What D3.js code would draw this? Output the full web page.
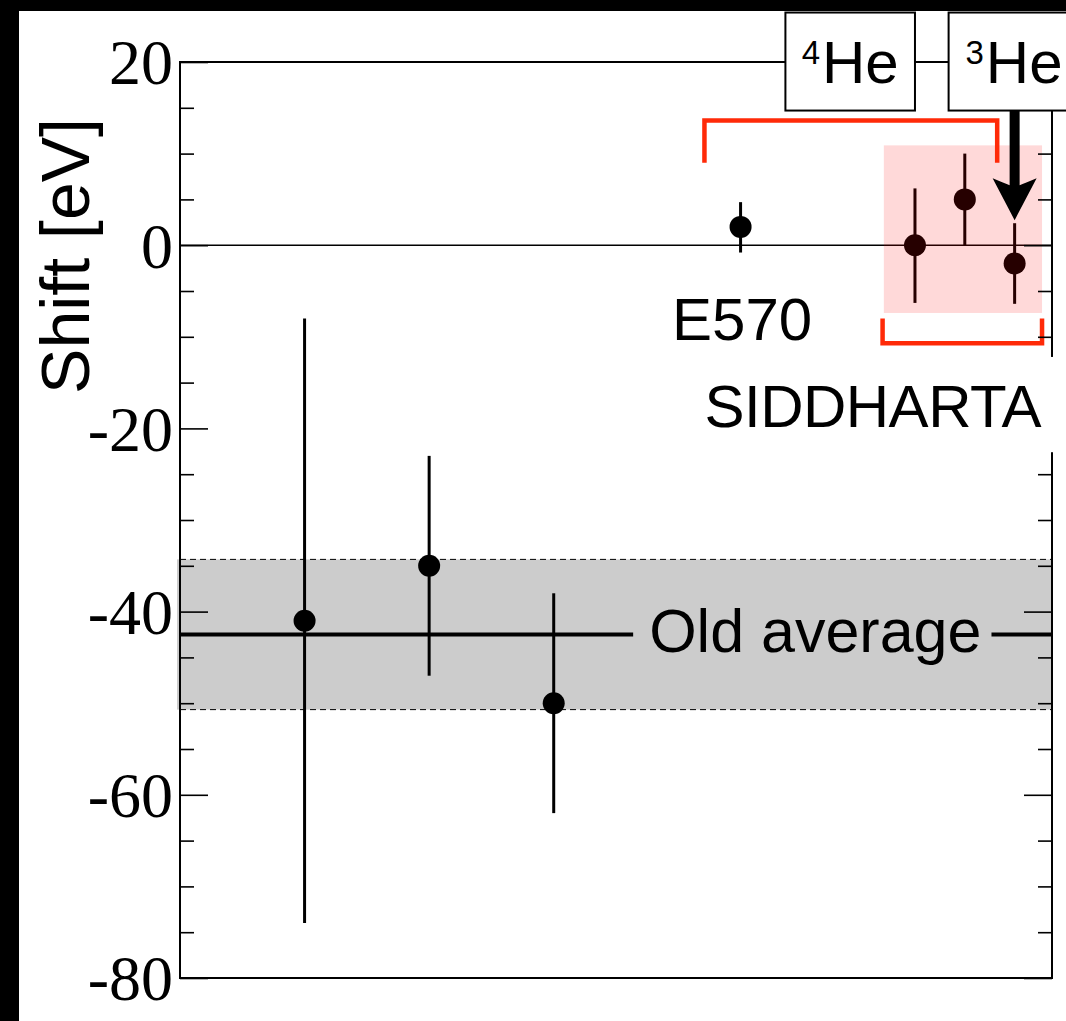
<!DOCTYPE html>
<html><head><meta charset="utf-8">
<script src="https://cdn.jsdelivr.net/npm/d3@7"></script>
<style>body{margin:0;background:#fff;} svg{display:block}</style>
</head><body>
<svg id="c" width="1066" height="1021"></svg>
<script>
// ---- data ----
const categories = ["Old 1", "Old 2", "Old 3", "E570", "SIDDHARTA 3He", "SIDDHARTA 4He", "SIDDHARTA 3He (new)"];
const xPositions = [1, 2, 3, 4.5, 5.9, 6.3, 6.7];
const shiftValues = [-41, -35, -50, 2, 0, 5, -2];
const errUp = [33, 12, 12, 2.7, 6.2, 5, 4.4];
const errDown = [33, 12, 12, 2.8, 6.3, 5, 4.4];
const majorTicks = [-80, -60, -40, -20, 0, 20];
const tickLabels = ["-80", "-60", "-40", "-20", "0", "20"];
const minorTicks = [-75, -70, -65, -55, -50, -45, -35, -30, -25, -15, -10, -5, 5, 10, 15];
const oldAverage = -42.5;
const oldAverageErr = 8.2;
const yDomain = [-80, 20];
const xDomain = [0, 7];

// ---- layout ----
const svg = d3.select("#c");
const L = 180, R = 1052, T = 62, B = 978;
const x = d3.scaleLinear(xDomain, [L, R]);
const y = d3.scaleLinear(yDomain, [B, T]);
const SANS = "'Liberation Sans', Arial, Helvetica, sans-serif";
const SERIF = "'Liberation Serif', 'Times New Roman', serif";
const RED = "#ff2a08";

svg.append("rect").attr("width", 1066).attr("height", 1021).attr("fill", "#fff");

// old average band
svg.append("rect")
  .attr("x", L - 3).attr("width", R - L + 3)
  .attr("y", y(oldAverage + oldAverageErr))
  .attr("height", y(oldAverage - oldAverageErr) - y(oldAverage + oldAverageErr))
  .attr("fill", "#cccccc");
[oldAverage + oldAverageErr, oldAverage - oldAverageErr].forEach(v => {
  svg.append("line").attr("x1", L).attr("x2", R).attr("y1", y(v)).attr("y2", y(v))
    .attr("stroke", "#000").attr("stroke-width", 1).attr("stroke-dasharray", "6,4");
});

// zero line
svg.append("line").attr("x1", L).attr("x2", R).attr("y1", y(0)).attr("y2", y(0))
  .attr("stroke", "#000").attr("stroke-width", 1.5);

// old average label + line
const oaText = svg.append("text").attr("x", x(5.1)).attr("y", y(oldAverage) + 17)
  .attr("text-anchor", "middle").attr("font-family", SANS).attr("font-size", 61)
  .attr("fill", "#000").text("Old average");
const bb = oaText.node().getBBox();
svg.insert("line", "text").attr("x1", L).attr("x2", bb.x - 16).attr("y1", y(oldAverage)).attr("y2", y(oldAverage))
  .attr("stroke", "#000").attr("stroke-width", 4);
svg.insert("line", "text").attr("x1", bb.x + bb.width + 10).attr("x2", R).attr("y1", y(oldAverage)).attr("y2", y(oldAverage))
  .attr("stroke", "#000").attr("stroke-width", 4);

// data points
const pts = xPositions.map((xv, i) => ({ x: xv, v: shiftValues[i], up: errUp[i], dn: errDown[i], c: categories[i] }));
const g = svg.append("g");
g.selectAll("line.err").data(pts).join("line").attr("class", "err")
  .attr("x1", d => x(d.x)).attr("x2", d => x(d.x))
  .attr("y1", d => y(d.v + d.up)).attr("y2", d => y(d.v - d.dn))
  .attr("stroke", "#000").attr("stroke-width", 3);
g.selectAll("circle").data(pts).join("circle")
  .attr("cx", d => x(d.x)).attr("cy", d => y(d.v)).attr("r", 11).attr("fill", "#000");

// SIDDHARTA pink overlay
svg.append("rect").attr("x", x(5.65)).attr("width", x(6.92) - x(5.65))
  .attr("y", y(10.9)).attr("height", y(-7.4) - y(10.9))
  .attr("fill", "#ff0000").attr("opacity", 0.15);

// red brackets
svg.append("path")
  .attr("d", `M${x(4.21)},${y(9.0)} V${y(13.6)} H${x(6.56)} V${y(9.0)}`)
  .attr("fill", "none").attr("stroke", RED).attr("stroke-width", 4.5);
svg.append("path")
  .attr("d", `M${x(5.64)},${y(-8.0)} V${y(-10.7)} H${x(6.92)} V${y(-8.0)}`)
  .attr("fill", "none").attr("stroke", RED).attr("stroke-width", 4.5);

// frame
svg.append("rect").attr("x", L).attr("y", T).attr("width", R - L).attr("height", B - T)
  .attr("fill", "none").attr("stroke", "#000").attr("stroke-width", 2);

// axes ticks (inward)
const axL1 = svg.append("g").attr("transform", `translate(${L},0)`)
  .call(d3.axisLeft(y).tickValues(majorTicks).tickSize(-28).tickFormat(""));
const axL2 = svg.append("g").attr("transform", `translate(${L},0)`)
  .call(d3.axisLeft(y).tickValues(minorTicks).tickSize(-14).tickFormat(""));
const axR1 = svg.append("g").attr("transform", `translate(${R},0)`)
  .call(d3.axisRight(y).tickValues(majorTicks).tickSize(-28).tickFormat(""));
const axR2 = svg.append("g").attr("transform", `translate(${R},0)`)
  .call(d3.axisRight(y).tickValues(minorTicks).tickSize(-14).tickFormat(""));
[axL1, axL2, axR1, axR2].forEach(a => {
  a.select(".domain").remove();
  a.selectAll(".tick line").attr("stroke", "#000").attr("stroke-width", 1.6);
});

// tick labels
svg.append("g").selectAll("text").data(majorTicks).join("text")
  .attr("x", L - 7).attr("y", d => y(d)).attr("dy", "0.35em")
  .attr("text-anchor", "end").attr("font-family", SERIF).attr("font-size", 64)
  .attr("fill", "#000").text((d, i) => tickLabels[i]);

// arrow
(function () {
  const ax = x(6.7), top = y(14.7), tip = y(2.73);
  const headBack = tip - 42, notch = tip - 35, hw = 22, sw = 5;
  svg.append("path").attr("d",
    `M${ax},${tip} L${ax - hw},${headBack} Q${ax - 10},${notch - 2} ${ax - sw},${notch} V${top} H${ax + sw} V${notch} Q${ax + 10},${notch - 2} ${ax + hw},${headBack} Z`)
    .attr("fill", "#000");
})();

// label boxes
function heBox(x0, x1, sup) {
  svg.append("rect").attr("x", x(x0)).attr("y", y(25.4)).attr("width", x(x1) - x(x0))
    .attr("height", y(14.7) - y(25.4)).attr("fill", "#fff").attr("stroke", "#000").attr("stroke-width", 2);
  const t = svg.append("text").attr("x", (x(x0) + x(x1)) / 2).attr("y", y(17.7))
    .attr("text-anchor", "middle").attr("font-family", SANS).attr("fill", "#000");
  t.append("tspan").attr("font-size", 33).attr("dy", -19).text(sup);
  t.append("tspan").attr("font-size", 60).attr("dy", 19).attr("dx", 2).text("He");
}
heBox(4.86, 5.9, "4");
heBox(6.17, 7.22, "3");

// E570 label
svg.append("text").attr("x", x(3.95)).attr("y", y(-10.4))
  .attr("font-family", SANS).attr("font-size", 60).attr("fill", "#000").text("E570");

// SIDDHARTA label with white background
svg.append("rect").attr("x", x(4.0)).attr("y", y(-12.2)).attr("width", 1066 - x(4.0))
  .attr("height", y(-22.6) - y(-12.2)).attr("fill", "#fff");
svg.append("text").attr("x", x(4.21)).attr("y", y(-19.9))
  .attr("font-family", SANS).attr("font-size", 60).attr("letter-spacing", -0.5)
  .attr("fill", "#000").text("SIDDHARTA");

// y-axis title
svg.append("text").attr("transform", "translate(89,256) rotate(-90)")
  .attr("text-anchor", "middle").attr("font-family", SANS).attr("font-size", 68)
  .attr("fill", "#000").text("Shift [eV]");

// black border strips (screenshot edge)
svg.append("rect").attr("x", 0).attr("y", 0).attr("width", 1066).attr("height", 11).attr("fill", "#000");
svg.append("rect").attr("x", 0).attr("y", 0).attr("width", 19).attr("height", 1021).attr("fill", "#000");
</script>
</body></html>
